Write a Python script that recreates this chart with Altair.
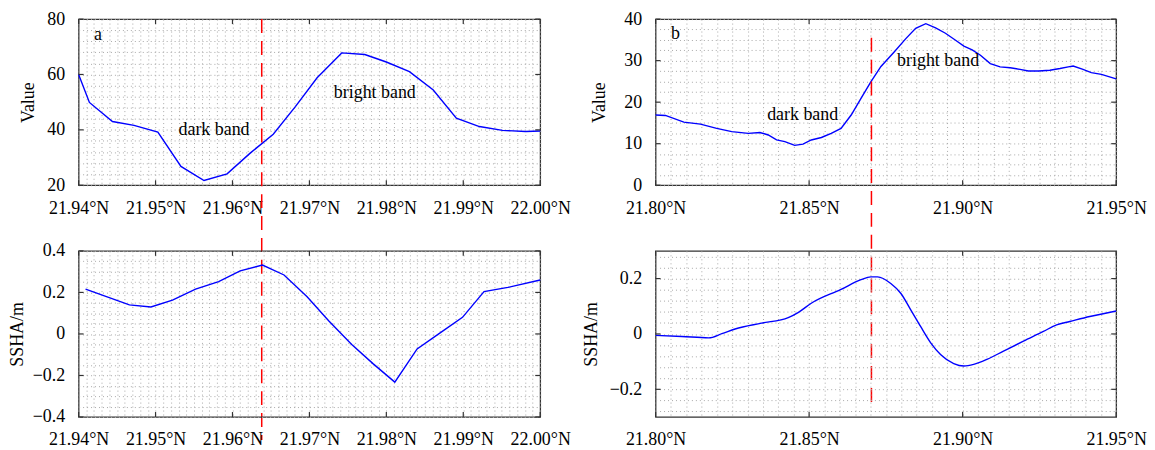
import altair as alt
import pandas as pd

FONT = "Liberation Serif"

# ---------------- data ----------------
# panel a, top: Value along latitude
a_lat_v = [21.9400, 21.9414, 21.9444, 21.9472, 21.9503, 21.9533, 21.9563, 21.9593,
           21.9623, 21.9653, 21.9682, 21.9710, 21.9742, 21.9772, 21.9800, 21.9830,
           21.9861, 21.9891, 21.9921, 21.9951, 21.9981, 22.0000]
a_val = [60.0, 49.9, 43.0, 41.6, 39.2, 26.8, 21.7, 24.1, 31.6, 38.4, 48.5, 58.8,
         67.8, 67.2, 64.5, 61.0, 54.4, 44.2, 41.2, 39.8, 39.4, 39.6]

# panel a, bottom: SSHA
a_lat_s = [21.9409, 21.9466, 21.9494, 21.9522, 21.9552, 21.9582, 21.9610, 21.9639,
           21.9667, 21.9697, 21.9725, 21.9755, 21.9783, 21.9811, 21.9840, 21.9869,
           21.9899, 21.9927, 21.9958, 22.0000]
a_ssha = [0.216, 0.140, 0.130, 0.163, 0.216, 0.252, 0.304, 0.332, 0.284, 0.179,
          0.064, -0.051, -0.144, -0.232, -0.072, 0.003, 0.080, 0.204, 0.224, 0.260]

# panel b, top: Value
b_lat_v = [21.8000, 21.8032, 21.8092, 21.8146, 21.8199, 21.8248, 21.8302, 21.8340,
           21.8367, 21.8394, 21.8421, 21.8453, 21.8480, 21.8507, 21.8540, 21.8572,
           21.8604, 21.8637, 21.8669, 21.8701, 21.8734, 21.8777, 21.8815, 21.8847,
           21.8880, 21.8912, 21.8944, 21.8977, 21.9004, 21.9031, 21.9058, 21.9090,
           21.9122, 21.9155, 21.9187, 21.9214, 21.9247, 21.9284, 21.9317, 21.9344,
           21.9360, 21.9392, 21.9419, 21.9452, 21.9500]
b_val = [16.9, 16.8, 15.2, 14.7, 13.7, 12.9, 12.5, 12.7, 12.1, 10.9, 10.5, 9.6,
         9.9, 10.9, 11.5, 12.5, 13.7, 16.9, 20.9, 24.9, 28.6, 32.1, 35.3, 37.8,
         38.9, 37.9, 36.6, 34.9, 33.5, 32.6, 31.3, 29.3, 28.5, 28.3, 27.9, 27.5,
         27.5, 27.7, 28.1, 28.5, 28.7, 27.9, 27.1, 26.7, 25.6]

# panel b, bottom: SSHA
b_lat_s = [21.8000, 21.8086, 21.8173, 21.8216, 21.8259, 21.8345, 21.8432, 21.8464,
           21.8507, 21.8604, 21.8669, 21.8701, 21.8723, 21.8766, 21.8799, 21.8831,
           21.8863, 21.8896, 21.8928, 21.8971, 21.9004, 21.9036, 21.9079, 21.9133,
           21.9198, 21.9263, 21.9306, 21.9349, 21.9414, 21.9500]
b_ssha = [-0.005, -0.009, -0.014, 0.001, 0.018, 0.039, 0.059, 0.077, 0.111, 0.161,
          0.196, 0.206, 0.206, 0.182, 0.146, 0.087, 0.027, -0.032, -0.074, -0.107,
          -0.116, -0.110, -0.092, -0.062, -0.026, 0.009, 0.033, 0.045, 0.063, 0.083]

# tick labels
a_xticks = [21.94, 21.95, 21.96, 21.97, 21.98, 21.99, 22.00]
b_xticks = [21.80, 21.85, 21.90, 21.95]
a_top_yticks = [20, 40, 60, 80]
a_bot_yticks = [-0.4, -0.2, 0.0, 0.2, 0.4]
b_top_yticks = [0, 10, 20, 30, 40]
b_bot_yticks = [-0.2, 0.0, 0.2]

# marked positions (red dashed lines)
a_mark_lat = 21.9638
b_mark_lat = 21.8703

# annotations
a_text = ["a", "dark band", "bright band"]
a_text_x = [21.9425, 21.9576, 21.9785]
a_text_y_top = [74.25, 40.0, 53.4]
b_text = ["b", "dark band", "bright band"]
b_text_x = [21.8065, 21.8479, 21.8920]
b_text_y_top = [36.5, 16.8, 29.9]

# grid positions (minor grid of the axes)
a_xgrid = [round(21.94 + i * 0.001, 3) for i in range(61)]
b_xgrid = [round(21.80 + i * 0.005, 3) for i in range(31)]
a_top_ygrid = list(range(20, 81, 4))
a_bot_ygrid = [round(-0.4 + i * 0.05, 2) for i in range(17)]
b_top_ygrid = [i * 2.5 for i in range(17)]
b_bot_ygrid = [round(-0.28 + i * 0.04, 2) for i in range(15)]

GRID_COLOR = "#a8a8a8"
FRAME = "#333333"


def major(step):
    return f"abs(datum.value/{step} - round(datum.value/{step})) < 0.001"


def panel(lat, val, xdom, ydom, xgrid, ygrid, xstep, ystep, xticks, yticks,
          ytitle, tpad, ylab, red_x, red_y, red_y2, texts=None, w=464, h=167,
          interp="linear"):
    xs = alt.Scale(domain=xdom, nice=False, zero=False)
    ys = alt.Scale(domain=ydom, nice=False, zero=False)
    common = dict(grid=True, gridDash=[1, 3], gridColor=GRID_COLOR, gridWidth=1,
                  gridOpacity=1, ticks=False, tickSize=0, domain=False,
                  labelFont=FONT, labelFontSize=18, labelColor="black",
                  labelOverlap=False, labelFlush=False, labelBound=False,
                  labelPadding=14)
    xaxis = alt.Axis(values=xgrid, title="",
                     labelExpr=f"{major(xstep)} ? format(datum.value, '.2f') + '°N' : ''",
                     **common)
    yaxis = alt.Axis(values=ygrid, title=ytitle, titlePadding=tpad, titleFont=FONT,
                     titleFontSize=18, titleFontWeight="normal", titleColor="black",
                     labelExpr=f"{major(ystep)} ? ({ylab}) : ''", **common)

    def X(f):
        return alt.X(f, scale=xs, axis=xaxis)

    def Y(f):
        return alt.Y(f, scale=ys, axis=yaxis)

    df = pd.DataFrame({"lat": lat, "v": val})
    line = alt.Chart(df).mark_line(color="#0000ff", strokeWidth=1.4,
                                   interpolate=interp).encode(
        x=X("lat:Q"), y=Y("v:Q"))

    red = alt.Chart(pd.DataFrame({"lat": [red_x], "v": [red_y]})).mark_rule(
        color="#ff0000", strokeDash=[14, 8], strokeWidth=1.5).encode(
        x=X("lat:Q"), y=Y("v:Q"), y2=alt.value(red_y2))

    xt = pd.DataFrame({"lat": xticks})
    yt = pd.DataFrame({"v": yticks})
    tick_style = dict(color=FRAME, strokeWidth=1.2)
    tx1 = alt.Chart(xt).mark_rule(**tick_style).encode(
        x=X("lat:Q"), y=alt.value(h), y2=alt.value(h - 5))
    tx2 = alt.Chart(xt).mark_rule(**tick_style).encode(
        x=X("lat:Q"), y=alt.value(0), y2=alt.value(5))
    ty1 = alt.Chart(yt).mark_rule(**tick_style).encode(
        y=Y("v:Q"), x=alt.value(0), x2=alt.value(5))
    ty2 = alt.Chart(yt).mark_rule(**tick_style).encode(
        y=Y("v:Q"), x=alt.value(w), x2=alt.value(w - 5))

    layers = [line, red, tx1, tx2, ty1, ty2]
    if texts is not None:
        tdf = pd.DataFrame({"label": texts[0], "lat": texts[1], "v": texts[2]})
        txt = alt.Chart(tdf).mark_text(font=FONT, fontSize=18, color="black").encode(
            x=X("lat:Q"), y=Y("v:Q"), text="label:N")
        layers.append(txt)
    return alt.layer(*layers).properties(width=w, height=h)


ssha_lab = "abs(datum.value) < 1e-9 ? '0' : replace(format(datum.value, '.1f'), '-', '−')"
int_lab = "format(datum.value, 'd')"

a_top = panel(a_lat_v, a_val, [21.94, 22.00], [20, 80], a_xgrid, a_top_ygrid,
              0.01, 20, a_xticks, a_top_yticks, "Value", 9.7, int_lab,
              a_mark_lat, 80, 423, texts=(a_text, a_text_x, a_text_y_top), w=464)
a_bot = panel(a_lat_s, a_ssha, [21.94, 22.00], [-0.4, 0.4], a_xgrid, a_bot_ygrid,
              0.01, 0.2, a_xticks, a_bot_yticks, "SSHA/m", 5.5, ssha_lab,
              a_mark_lat, 0.4, 0, w=464)
b_top = panel(b_lat_v, b_val, [21.80, 21.95], [0, 40], b_xgrid, b_top_ygrid,
              0.05, 10, b_xticks, b_top_yticks, "Value", 15.2, int_lab,
              b_mark_lat, 35.5, 388, texts=(b_text, b_text_x, b_text_y_top), w=463)
b_bot = panel(b_lat_s, b_ssha, [21.80, 21.95], [-0.3, 0.3], b_xgrid, b_bot_ygrid,
              0.05, 0.2, b_xticks, b_bot_yticks, "SSHA/m", 8.5, ssha_lab,
              b_mark_lat, 0.3, 0, w=463, interp="monotone")

chart = alt.concat(a_top, b_top, a_bot, b_bot, columns=2,
                   spacing=alt.RowColnumber(row=66, column=116),
                   bounds="flush").properties(
    padding={"left": 0, "top": 0, "right": 0, "bottom": 0}
).configure_view(stroke=FRAME, strokeWidth=1.3)

chart.save("out.html", embed_options={"renderer": "svg", "actions": False})
